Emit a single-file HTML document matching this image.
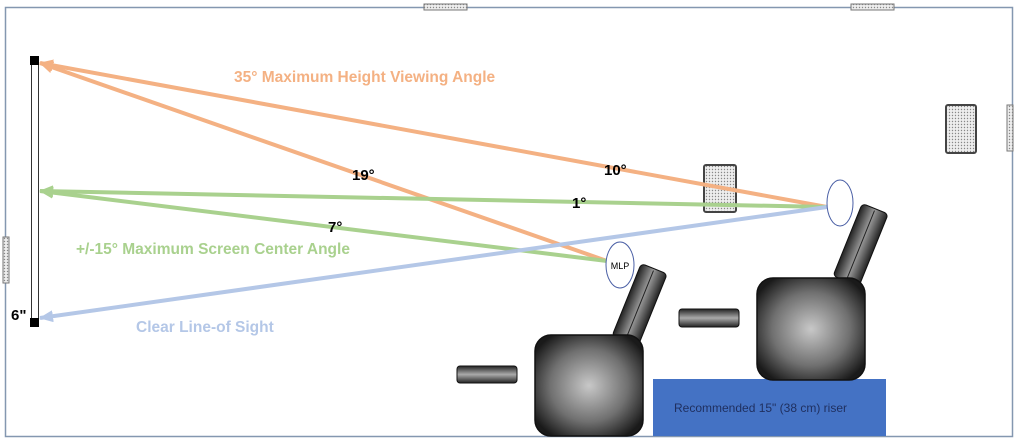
<!DOCTYPE html>
<html><head><style>body{margin:0;background:#fff}svg{display:block}</style></head><body>
<svg width="1019" height="443" viewBox="0 0 1019 443" xmlns="http://www.w3.org/2000/svg" font-family="Liberation Sans, sans-serif">
<defs>
<radialGradient id="g" cx="50%" cy="50%" r="60%"><stop offset="0" stop-color="#c8c8c8"/><stop offset="0.6" stop-color="#707070"/><stop offset="1" stop-color="#1a1a1a"/></radialGradient>
<linearGradient id="gl" x1="0" y1="0" x2="0" y2="1"><stop offset="0" stop-color="#222"/><stop offset="0.5" stop-color="#aaa"/><stop offset="1" stop-color="#222"/></linearGradient>
<linearGradient id="gb" x1="0" y1="0" x2="1" y2="0"><stop offset="0" stop-color="#222"/><stop offset="0.5" stop-color="#999"/><stop offset="1" stop-color="#222"/></linearGradient>
<pattern id="dots" width="3" height="3" patternUnits="userSpaceOnUse"><rect width="3" height="3" fill="#eee"/><circle cx="1.5" cy="1.5" r="0.7" fill="#888"/></pattern>
<marker id="mo" markerWidth="14" markerHeight="12" refX="13" refY="6" orient="auto" markerUnits="userSpaceOnUse"><path d="M0,0 L14,6 L0,12z" fill="#f4b183"/></marker>
<marker id="mg" markerWidth="14" markerHeight="12" refX="13" refY="6" orient="auto" markerUnits="userSpaceOnUse"><path d="M0,0 L14,6 L0,12z" fill="#a9d18e"/></marker>
<marker id="mb" markerWidth="14" markerHeight="12" refX="13" refY="6" orient="auto" markerUnits="userSpaceOnUse"><path d="M0,0 L14,6 L0,12z" fill="#b4c7e7"/></marker>
</defs>
<rect x="5.5" y="7.5" width="1007" height="429" fill="none" stroke="#8497b0" stroke-width="1.5"/>
<rect x="424" y="4" width="43" height="6" fill="url(#dots)" stroke="#777"/>
<rect x="851" y="4" width="43" height="6" fill="url(#dots)" stroke="#777"/>
<rect x="1007" y="105" width="6" height="46" fill="url(#dots)" stroke="#777"/>
<rect x="3" y="237" width="6" height="46" fill="url(#dots)" stroke="#777"/>
<rect x="946" y="105" width="30" height="48" rx="2" fill="url(#dots)" stroke="#444" stroke-width="2"/>
<rect x="704" y="165" width="32" height="47" rx="2" fill="url(#dots)" stroke="#444" stroke-width="2"/>
<!-- riser -->
<rect x="653" y="379" width="233" height="57" fill="#4472c4"/>
<text x="674" y="412" font-size="12" fill="#1f2f5f">Recommended 15" (38 cm) riser</text>
<!-- chairs -->
<g transform="rotate(22 640 304)"><rect x="626" y="266" width="28" height="78" rx="4" fill="url(#gb)" stroke="#111"/><line x1="640" y1="268" x2="640" y2="342" stroke="#222"/></g>
<rect x="535" y="335" width="108" height="101" rx="16" fill="url(#g)" stroke="#111" stroke-width="1.5"/>
<g transform="rotate(22 861 244)"><rect x="847" y="206" width="28" height="78" rx="4" fill="url(#gb)" stroke="#111"/><line x1="861" y1="208" x2="861" y2="282" stroke="#222"/></g>
<rect x="757" y="278" width="108" height="102" rx="16" fill="url(#g)" stroke="#111" stroke-width="1.5"/>
<rect x="457" y="366" width="60" height="17" rx="3" fill="url(#gl)" stroke="#111"/>
<rect x="679" y="309" width="60" height="18" rx="3" fill="url(#gl)" stroke="#111"/>
<!-- lines -->
<g stroke-width="4" fill="none">
<line x1="827" y1="207" x2="40" y2="63" stroke="#f4b183" marker-end="url(#mo)"/>
<line x1="607" y1="261" x2="40" y2="63" stroke="#f4b183" marker-end="url(#mo)"/>
<line x1="827" y1="207" x2="40" y2="191" stroke="#a9d18e" marker-end="url(#mg)"/>
<line x1="607" y1="261" x2="40" y2="191" stroke="#a9d18e" marker-end="url(#mg)"/>
<line x1="827" y1="207" x2="40" y2="318" stroke="#b4c7e7" marker-end="url(#mb)"/>
</g>
<!-- screen -->
<line x1="31.5" y1="60" x2="31.5" y2="322" stroke="#333"/>
<line x1="38.5" y1="60" x2="38.5" y2="322" stroke="#333"/>
<rect x="30" y="56" width="9" height="9" fill="#000"/>
<rect x="30" y="318" width="9" height="9" fill="#000"/>
<text x="11" y="320" font-size="15" font-weight="bold">6"</text>
<ellipse cx="840" cy="203" rx="13" ry="23" fill="#fff" stroke="#4a5fa5"/>
<ellipse cx="620" cy="265" rx="14" ry="23" fill="#fff" stroke="#4a5fa5"/>
<text x="620" y="269" font-size="9" text-anchor="middle">MLP</text>
<text x="234" y="82" font-size="15.5" font-weight="bold" fill="#f4b183">35° Maximum Height Viewing Angle</text>
<text x="76" y="254" font-size="15.5" font-weight="bold" fill="#a9d18e">+/-15° Maximum Screen Center Angle</text>
<text x="136" y="332" font-size="15.5" font-weight="bold" fill="#b4c7e7">Clear Line-of Sight</text>
<g font-size="15" font-weight="bold"><text x="352" y="180">19°</text><text x="604" y="175">10°</text><text x="572" y="208">1°</text><text x="328" y="232">7°</text></g>
</svg>
</body></html>
